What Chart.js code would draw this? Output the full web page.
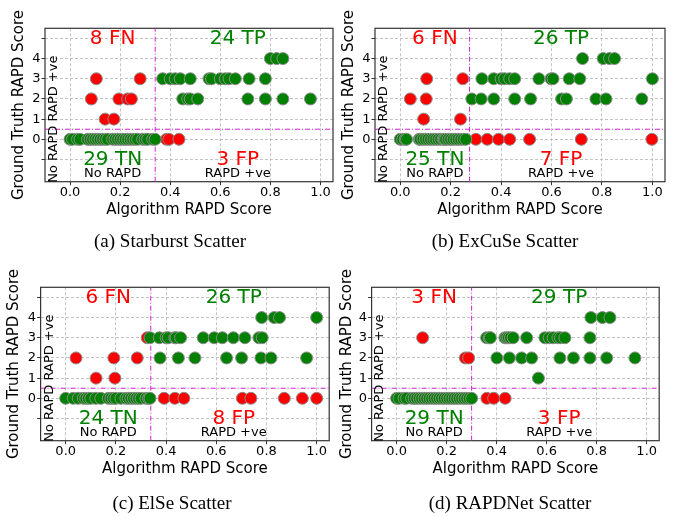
<!DOCTYPE html>
<html><head><meta charset="utf-8">
<script src="https://cdn.jsdelivr.net/npm/chart.js@4.4.0/dist/chart.umd.min.js"></script>
<style>
html,body{margin:0;padding:0;background:#fff;}
body{width:683px;height:516px;position:relative;overflow:hidden;}
canvas{position:absolute;}
.cap{position:absolute;font-family:"Liberation Serif","Times New Roman",serif;font-size:19px;color:#000;white-space:nowrap;transform:translateX(-50%);line-height:1;}
</style></head><body>
<canvas id="ca"></canvas><canvas id="cb"></canvas><canvas id="cc"></canvas><canvas id="cd"></canvas>
<div class="cap" id="capa"></div><div class="cap" id="capb"></div><div class="cap" id="capc"></div><div class="cap" id="capd"></div>
<script>
// ---- data ----
const xTicks = [0, 0.2, 0.4, 0.6, 0.8, 1.0];
const yTicks = [-1, 0, 1, 2, 3, 4, 5];
const yTickLabels = ['', '0', '1', '2', '3', '4', ''];
const captions = ['(a) Starburst Scatter', '(b) ExCuSe Scatter', '(c) ElSe Scatter', '(d) RAPDNet Scatter'];
const thresholds = [0.34, 0.275, 0.339, 0.30];
const fnCounts = [8, 6, 6, 3];
const tpCounts = [24, 26, 26, 29];
const tnCounts = [29, 25, 24, 29];
const fpCounts = [3, 7, 8, 3];

// (a) Starburst
const aG4 = [0.80, 0.825, 0.85];
const aG3 = [0.37, 0.40, 0.42, 0.44, 0.48, 0.555, 0.565, 0.60, 0.62, 0.635, 0.66, 0.715, 0.78];
const aG2 = [0.45, 0.47, 0.48, 0.51, 0.71, 0.78, 0.85, 0.96];
const aG1 = [];
const aG0 = [0.0, 0.01, 0.03, 0.04, 0.07, 0.08, 0.09, 0.10, 0.11, 0.12, 0.13, 0.14, 0.15, 0.17, 0.18, 0.19, 0.20, 0.21, 0.22, 0.23, 0.24, 0.25, 0.26, 0.27, 0.29, 0.30, 0.31, 0.33, 0.34];
const aR3 = [0.105, 0.28];
const aR2 = [0.085, 0.195, 0.23, 0.245];
const aR1 = [0.14, 0.175];
const aR0 = [0.385, 0.395, 0.435];

// (b) ExCuSe
const bG4 = [0.723, 0.805, 0.83, 0.85];
const bG3 = [0.324, 0.371, 0.40, 0.414, 0.434, 0.454, 0.55, 0.598, 0.606, 0.67, 0.712, 1.0];
const bG2 = [0.284, 0.321, 0.371, 0.454, 0.517, 0.64, 0.659, 0.776, 0.816, 0.958];
const bG1 = [];
const bG0 = [0.0, 0.01, 0.02, 0.025, 0.075, 0.08, 0.09, 0.10, 0.11, 0.12, 0.13, 0.14, 0.15, 0.16, 0.17, 0.175, 0.18, 0.19, 0.20, 0.21, 0.22, 0.23, 0.24, 0.25, 0.26];
const bR3 = [0.105, 0.248];
const bR2 = [0.04, 0.103];
const bR1 = [0.093, 0.239];
const bR0 = [0.30, 0.345, 0.39, 0.434, 0.513, 0.718, 0.998];

// (c) ElSe
const cG4 = [0.781, 0.831, 0.852, 1.0];
const cG3 = [0.336, 0.373, 0.40, 0.409, 0.435, 0.44, 0.458, 0.548, 0.592, 0.624, 0.668, 0.714, 0.77, 0.783];
const cG2 = [0.376, 0.449, 0.515, 0.641, 0.701, 0.778, 0.818, 0.96];
const cG1 = [];
const cG0 = [0.0, 0.03, 0.05, 0.07, 0.08, 0.09, 0.10, 0.12, 0.14, 0.17, 0.18, 0.19, 0.20, 0.22, 0.24, 0.25, 0.26, 0.27, 0.28, 0.29, 0.30, 0.32, 0.33, 0.336];
const cR3 = [0.325];
const cR2 = [0.041, 0.192, 0.285];
const cR1 = [0.121, 0.196];
const cR0 = [0.392, 0.435, 0.471, 0.704, 0.738, 0.871, 0.943, 1.0];

// (d) RAPDNet
const dG4 = [0.777, 0.823, 0.853];
const dG3 = [0.36, 0.37, 0.375, 0.433, 0.44, 0.447, 0.455, 0.466, 0.52, 0.593, 0.61, 0.626, 0.645, 0.655, 0.673, 0.773];
const dG2 = [0.401, 0.451, 0.50, 0.54, 0.653, 0.707, 0.773, 0.84, 0.953];
const dG1 = [0.567];
const dG0 = [0.0, 0.01, 0.03, 0.04, 0.06, 0.07, 0.08, 0.09, 0.10, 0.11, 0.12, 0.13, 0.14, 0.15, 0.16, 0.17, 0.18, 0.19, 0.20, 0.21, 0.22, 0.23, 0.24, 0.25, 0.26, 0.27, 0.28, 0.29, 0.30];
const dR3 = [0.104];
const dR2 = [0.275, 0.288];
const dR1 = [];
const dR0 = [0.361, 0.388, 0.434];

// ---- drawing ----
const X_MIN = -0.1, X_MAX = 1.05, Y_MIN = -2.1, Y_MAX = 5.5;
const FONT = '"DejaVu Sans", sans-serif';
Chart.defaults.font.family = FONT;

function pts(levels) {
  const out = [];
  levels.forEach(([arr, y]) => arr.forEach(x => out.push({x: x, y: y})));
  return out;
}

const framePlugin = {
  id: 'frame',
  beforeDatasetsDraw(chart) {
    const {ctx, chartArea: a} = chart;
    ctx.save();
    ctx.strokeStyle = '#333';
    ctx.lineWidth = 1.2;
    ctx.strokeRect(a.left, a.top, a.right - a.left, a.bottom - a.top);
    ctx.restore();
  }
};

function labelPlugin(i) {
  return {
    id: 'quadLabels' + i,
    afterDatasetsDraw(chart) {
      const {ctx} = chart;
      const xs = chart.scales.x, ys = chart.scales.y;
      const thr = thresholds[i];
      const lx = xs.getPixelForValue(thr / 2), rx = xs.getPixelForValue((thr + 1) / 2);
      ctx.save();
      ctx.textAlign = 'center';
      ctx.textBaseline = 'middle';
      ctx.font = '20px ' + FONT;
      ctx.fillStyle = '#ff0000';
      ctx.fillText(fnCounts[i] + ' FN', lx, ys.getPixelForValue(5));
      ctx.fillText(fpCounts[i] + ' FP', rx, ys.getPixelForValue(-1));
      ctx.fillStyle = '#008000';
      ctx.fillText(tpCounts[i] + ' TP', rx, ys.getPixelForValue(5));
      ctx.fillText(tnCounts[i] + ' TN', lx, ys.getPixelForValue(-1));
      ctx.font = '13px ' + FONT;
      ctx.fillStyle = '#000';
      ctx.fillText('No RAPD', lx, ys.getPixelForValue(-1.72));
      ctx.fillText('RAPD +ve', rx, ys.getPixelForValue(-1.72));
      ctx.translate(xs.getPixelForValue(-0.066), ys.getPixelForValue(1.0));
      ctx.rotate(-Math.PI / 2);
      ctx.fillText('No RAPD RAPD +ve', 0, 0);
      ctx.restore();
    }
  };
}

const panels = [
  {id: 'ca', cap: 'capa', left: 0, top: 0, w: 341, h: 258, pad: {left: 0, top: 28.3, right: 8, bottom: 36.3}, yW: 45, yTP: 11.5, capX: 170, capY: 231,
   g: [[aG4, 4], [aG3, 3], [aG2, 2], [aG1, 1], [aG0, 0]], r: [[aR3, 3], [aR2, 2], [aR1, 1], [aR0, 0]]},
  {id: 'cb', cap: 'capb', left: 336, top: 0, w: 347, h: 258, pad: {left: 0, top: 28.3, right: 18, bottom: 36.3}, yW: 39, yTP: 5.5, capX: 505, capY: 231,
   g: [[bG4, 4], [bG3, 3], [bG2, 2], [bG1, 1], [bG0, 0]], r: [[bR3, 3], [bR2, 2], [bR1, 1], [bR0, 0]]},
  {id: 'cc', cap: 'capc', left: 0, top: 258, w: 341, h: 258, pad: {left: 0, top: 29.3, right: 11.8, bottom: 35.3}, yW: 40.6, yTP: 6.5, capX: 172, capY: 493,
   g: [[cG4, 4], [cG3, 3], [cG2, 2], [cG1, 1], [cG0, 0]], r: [[cR3, 3], [cR2, 2], [cR1, 1], [cR0, 0]]},
  {id: 'cd', cap: 'capd', left: 336, top: 258, w: 347, h: 258, pad: {left: 0, top: 29.3, right: 23.8, bottom: 35.3}, yW: 35.6, yTP: 3.8, capX: 510, capY: 493,
   g: [[dG4, 4], [dG3, 3], [dG2, 2], [dG1, 1], [dG0, 0]], r: [[dR3, 3], [dR2, 2], [dR1, 1], [dR0, 0]]}
];

panels.forEach((p, i) => {
  const cv = document.getElementById(p.id);
  cv.width = p.w; cv.height = p.h;
  cv.style.left = p.left + 'px'; cv.style.top = p.top + 'px';
  cv.style.width = p.w + 'px'; cv.style.height = p.h + 'px';
  const capEl = document.getElementById(p.cap);
  capEl.textContent = captions[i];
  capEl.style.left = p.capX + 'px'; capEl.style.top = p.capY + 'px';
  const thr = thresholds[i];
  const marker = {borderColor: '#8c8c8c', borderWidth: 1, pointRadius: 6, pointHoverRadius: 6, showLine: false};
  new Chart(cv.getContext('2d'), {
    type: 'scatter',
    data: {datasets: [
      Object.assign({data: pts(p.g), backgroundColor: '#008000'}, marker),
      Object.assign({data: pts(p.r), backgroundColor: '#ff0000'}, marker),
      {data: [{x: thr, y: Y_MIN}, {x: thr, y: Y_MAX}], showLine: true, borderColor: '#cc22cc', borderWidth: 1, borderDash: [5, 2, 1, 2], pointRadius: 0, fill: false},
      {data: [{x: X_MIN, y: 0.5}, {x: X_MAX, y: 0.5}], showLine: true, borderColor: '#cc22cc', borderWidth: 1, borderDash: [5, 2, 1, 2], pointRadius: 0, fill: false}
    ]},
    options: {
      responsive: false, animation: false, events: [], devicePixelRatio: 1,
      layout: {padding: p.pad, autoPadding: false},
      plugins: {legend: {display: false}, tooltip: {enabled: false}},
      scales: {
        x: {
          type: 'linear', min: X_MIN, max: X_MAX,
          afterBuildTicks: s => { s.ticks = xTicks.map(v => ({value: v})); },
          afterFit: s => { s.height = 40; },
          ticks: {callback: v => Number(v).toFixed(1), font: {size: 13, lineHeight: 1}, color: '#000', padding: 1, maxRotation: 0, autoSkip: false},
          grid: {color: '#b4b4b4', lineWidth: 0.8, tickLength: 3.5, tickColor: '#333', tickWidth: 1},
          border: {display: false, dash: [3, 2]},
          title: {display: true, text: 'Algorithm RAPD Score', font: {size: 15, lineHeight: 1}, color: '#000', padding: {top: 0, bottom: 4.2}}
        },
        y: {
          type: 'linear', min: Y_MIN, max: Y_MAX,
          afterBuildTicks: s => { s.ticks = yTicks.map(v => ({value: v})); },
          afterFit: s => { s.width = p.yW; },
          ticks: {callback: (v, idx) => yTickLabels[idx], font: {size: 13, lineHeight: 1}, color: '#000', padding: 1, autoSkip: false},
          grid: {color: '#b4b4b4', lineWidth: 0.8, tickLength: 3.5, tickColor: '#333', tickWidth: 1},
          border: {display: false, dash: [3, 2]},
          title: {display: true, text: 'Ground Truth RAPD Score', font: {size: 15, lineHeight: 1}, color: '#000', padding: {top: p.yTP, bottom: 0}}
        }
      }
    },
    plugins: [framePlugin, labelPlugin(i)]
  });
});
</script>
</body></html>
